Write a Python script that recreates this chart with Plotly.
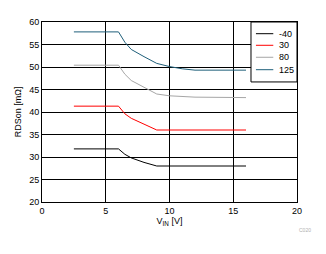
import plotly.graph_objects as go

x_vals = [2.5, 6.0, 6.5, 7.0, 8.0, 9.0, 10.0, 11.0, 12.0, 16.0]
s_m40 = [31.8, 31.8, 30.6, 29.8, 28.8, 28.0, 28.0, 28.0, 28.0, 28.0]
s_30 = [41.3, 41.3, 39.6, 38.6, 37.3, 36.0, 36.0, 36.0, 36.0, 36.0]
s_80 = [50.4, 50.4, 48.4, 47.0, 45.5, 44.0, 43.6, 43.4, 43.3, 43.2]
s_125 = [57.8, 57.8, 55.5, 53.9, 52.3, 50.8, 50.1, 49.6, 49.3, 49.3]
names = ["-40", "30", "80", "125"]
colors = ["#000000", "#ff0000", "#a6a6a6", "#1f5f7a"]
series = [s_m40, s_30, s_80, s_125]

fig = go.Figure()
for n, c, s in zip(names, colors, series):
    fig.add_trace(go.Scatter(x=x_vals, y=s, mode="lines", name=n,
                             line=dict(color=c, width=1), showlegend=False))

font = dict(family="Liberation Sans, Arial, sans-serif", size=9, color="#000000")
fig.update_layout(
    width=326, height=254,
    margin=dict(l=42, r=29, t=22, b=52),
    plot_bgcolor="white", paper_bgcolor="white",
    font=font,
    showlegend=False,
    xaxis=dict(range=[0, 20], dtick=5, showgrid=True, gridcolor="black",
               gridwidth=1, zeroline=False, showline=True, linecolor="black",
               mirror=True, ticks="", tickfont=font,
               title=dict(text="V<sub>IN</sub> [V]", font=font, standoff=0)),
    yaxis=dict(range=[20, 60], dtick=5, showgrid=True, gridcolor="black",
               gridwidth=1, zeroline=False, showline=True, linecolor="black",
               mirror=True, ticks="", tickfont=font,
               title=dict(text="RDSon [mΩ]", font=font, standoff=6)),
)

# legend box drawn manually
fig.add_shape(type="rect", xref="paper", yref="paper", x0=0.8196, x1=1.0,
              y0=0.667, y1=1.0, fillcolor="white",
              line=dict(color="black", width=1), layer="above")
leg_y = [0.935, 0.8706, 0.804, 0.735]
for n, c, ly in zip(names, colors, leg_y):
    fig.add_shape(type="line", xref="paper", yref="paper", x0=0.839, x1=0.907,
                  y0=ly, y1=ly, line=dict(color=c, width=1), layer="above")
    fig.add_annotation(text=n, xref="paper", yref="paper", x=0.922, y=ly,
                       xanchor="left", yanchor="middle", showarrow=False,
                       font=dict(size=9, color="black"))

fig.add_annotation(text="C020", xref="paper", yref="paper", x=1.03, y=-0.155,
                   xanchor="center", yanchor="middle", showarrow=False,
                   font=dict(size=5, color="#b0b0b0"))
fig.write_html("out.html")
